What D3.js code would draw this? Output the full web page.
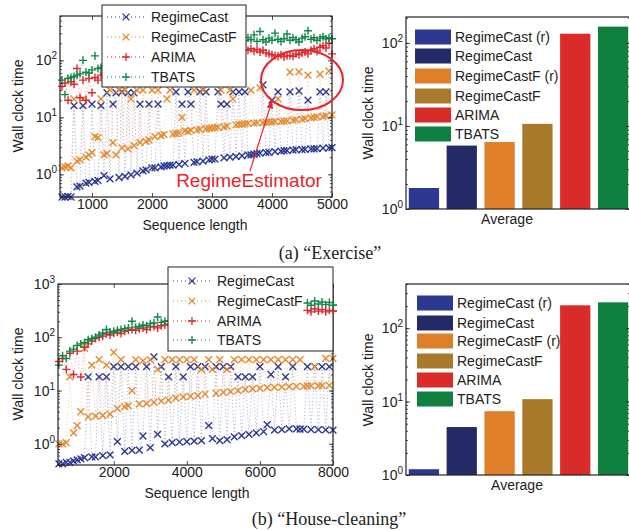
<!DOCTYPE html>
<html lang="en">
<head>
<meta charset="UTF-8">
<title>Wall clock time</title>
<script src="https://cdn.jsdelivr.net/npm/d3@7"></script>
<style>
  body { margin: 0; background: #fff; }
  svg text { font-family: "Liberation Sans", Arial, sans-serif; fill: #222; }
</style>
</head>
<body>
<svg id="fig" width="629" height="530"></svg>
<script>

// ---- data ----
const methods = ["RegimeCast", "RegimeCastF", "ARIMA", "TBATS"];
const methodColors = ["#2b3a92", "#e68a2e", "#e3262b", "#14874a"];
const methodMarks = ["x", "x", "+", "+"];

const barNames = ["RegimeCast (r)", "RegimeCast", "RegimeCastF (r)", "RegimeCastF", "ARIMA", "TBATS"];
const barColors = ["#2b3990", "#232a66", "#e07f2a", "#aa7a2c", "#d92b27", "#0f8040"];

// (a) Exercise
const lenA = [500, 550, 600, 650, 700, 750, 800, 850, 900, 950,
  1000, 1050, 1100, 1150, 1200, 1250, 1300, 1350, 1400, 1450,
  1500, 1550, 1600, 1650, 1700, 1750, 1800, 1850, 1900, 1950,
  2000, 2050, 2100, 2150, 2200, 2250, 2300, 2350, 2400, 2450,
  2500, 2550, 2600, 2650, 2700, 2750, 2800, 2850, 2900, 2950,
  3000, 3050, 3100, 3150, 3200, 3250, 3300, 3350, 3400, 3450,
  3500, 3550, 3600, 3650, 3700, 3750, 3800, 3850, 3900, 3950,
  4000, 4050, 4100, 4150, 4200, 4250, 4300, 4350, 4400, 4450,
  4500, 4550, 4600, 4650, 4700, 4750, 4800, 4850, 4900, 4950, 5000];
const regimeCastA = [0.4, 0.4, 0.41, 0.4, 16, 0.6, 0.62, 16, 0.7, 0.72,
  17, 0.75, 0.78, 16, 0.95, 27, 0.83, 17, 27, 0.88,
  28, 0.92, 27, 0.98, 27, 1.05, 17, 1.15, 1.2, 17,
  1.3, 1.3, 17, 1.35, 1.4, 1.42, 1.45, 1.45, 28, 1.5,
  17, 1.55, 28, 17, 1.62, 1.65, 28, 1.7, 28, 1.8,
  1.85, 1.85, 28, 17, 1.95, 17, 2.0, 28, 2.05, 28,
  2.1, 28, 2.2, 2.2, 2.25, 2.3, 2.35, 37, 2.4, 2.42,
  20, 2.5, 28, 2.55, 2.6, 2.62, 28, 2.65, 2.7, 29,
  2.72, 2.75, 20, 2.8, 2.8, 2.82, 28, 2.88, 28, 2.92, 2.95];
const regimeCastFA = [1.3, 1.35, 1.4, 1.3, 21, 1.7, 1.8, 21, 2.0, 2.2,
  2.4, 4.6, 4.4, 21, 2.2, 2.3, 30, 3.6, 2.2, 30,
  2.9, 30, 2.8, 21, 3.2, 30, 3.6, 30, 3.8, 4.0,
  30, 4.6, 30, 4.8, 5.0, 21, 30, 5.1, 5.2, 5.3,
  10, 5.8, 5.6, 5.9, 30, 6.0, 6.1, 30, 6.3, 6.4,
  6.5, 6.6, 6.7, 30, 6.8, 7.0, 30, 21, 7.4, 7.5,
  7.6, 7.7, 7.8, 30, 7.9, 8.0, 33, 8.1, 8.2, 8.3,
  8.3, 8.4, 21, 8.5, 8.6, 8.7, 62, 8.9, 9.0, 63,
  9.3, 9.5, 55, 9.8, 10, 10.2, 57, 10.4, 10.6, 65, 11];
const arimaA = [35, 40, 20, 42, 38, 72, 22, 45, 20, 48,
  27, 50, 45, 55, 60, 72, 62, 66, 70, 68,
  75, 72, 80, 78, 85, 82, 88, 90, 86, 92,
  95, 98, 94, 100, 104, 98, 106, 110, 105, 112,
  115, 110, 118, 120, 115, 122, 125, 120, 128, 130,
  125, 132, 135, 138, 140, 135, 145, 142, 150, 148,
  155, 150, 150, 160, 145, 155, 140, 150, 135, 130,
  125, 120, 118, 125, 115, 120, 122, 118, 130, 125,
  135, 140, 130, 150, 160, 145, 170, 180, 165, 200, 130];
const tbatsA = [45, 25, 48, 50, 52, 55, 58, 100, 62, 60,
  68, 120, 72, 75, 80, 85, 90, 92, 96, 100,
  104, 108, 110, 115, 118, 120, 125, 128, 130, 135,
  140, 142, 145, 150, 152, 155, 160, 158, 165, 168,
  170, 175, 178, 180, 185, 182, 190, 188, 195, 192,
  200, 205, 220, 230, 210, 240, 225, 250, 230, 260,
  240, 220, 250, 230, 280, 215, 320, 230, 210, 245,
  225, 300, 235, 215, 240, 290, 225, 250, 230, 210,
  245, 260, 330, 235, 250, 225, 245, 260, 240, 250, 240];
const avgA = [1.79, 5.8, 6.4, 10.6, 129, 157];

// (b) House-cleaning
const lenB = [500, 600, 700, 800, 900, 1000, 1100, 1200, 1300, 1400,
  1500, 1600, 1700, 1800, 1900, 2000, 2100, 2200, 2300, 2400,
  2500, 2600, 2700, 2800, 2900, 3000, 3100, 3200, 3300, 3400,
  3500, 3600, 3700, 3800, 3900, 4000, 4100, 4200, 4300, 4400,
  4500, 4600, 4700, 4800, 4900, 5000, 5100, 5200, 5300, 5400,
  5500, 5600, 5700, 5800, 5900, 6000, 6100, 6200, 6300, 6400,
  6500, 6600, 6700, 6800, 6900, 7000, 7100, 7200, 7300, 7400,
  7500, 7600, 7700, 7800, 7900, 8000];
const regimeCastB = [0.42, 0.42, 0.45, 0.45, 0.48, 0.5, 0.52, 0.55, 18, 0.57,
  0.57, 18, 0.6, 18, 0.62, 28, 1.1, 28, 0.72, 28,
  0.75, 28, 0.76, 1.4, 28, 0.85, 43, 1.5, 28, 1.0,
  18, 1.05, 28, 1.08, 18, 1.1, 28, 1.12, 28, 1.15,
  28, 2.2, 1.25, 28, 1.15, 28, 1.2, 28, 1.35, 18,
  1.42, 18, 1.5, 18, 1.6, 28, 1.7, 2.3, 20, 1.8,
  28, 1.85, 18, 1.9, 28, 1.9, 1.88, 1.88, 28, 1.85,
  28, 1.85, 28, 1.82, 28, 1.8];
const regimeCastFB = [1.0, 1.0, 1.05, 18, 1.6, 2.2, 4.0, 62, 3.2, 30,
  3.3, 38, 3.4, 30, 3.6, 52, 4.6, 38, 5.0, 5.2,
  10, 38, 5.6, 36, 5.7, 38, 6.0, 25, 6.3, 38,
  6.6, 38, 7.2, 38, 7.6, 38, 7.8, 38, 8.0, 25,
  8.6, 38, 25, 8.9, 38, 9.2, 25, 9.5, 38, 10,
  38, 10.5, 38, 10.8, 38, 11, 38, 11.3, 38, 11.5,
  38, 11.6, 38, 11.8, 38, 12, 38, 12, 12.2, 12.2,
  28, 12.3, 12.4, 40, 12.5, 40];
const arimaB = [35, 40, 25, 50, 20, 55, 18, 65, 75, 85,
  95, 100, 105, 115, 110, 120, 125, 118, 130, 135,
  140, 135, 145, 150, 140, 155, 160, 150, 165, 170,
  175, 180, 185, 190, 195, 200, 205, 210, 215, 220,
  225, 230, 235, 240, 245, 250, 255, 260, 265, 270,
  275, 280, 285, 290, 290, 295, 300, 300, 305, 310,
  310, 315, 315, 320, 320, 325, 325, 330, 320, 300,
  340, 310, 330, 300, 320, 310];
const tbatsB = [30, 45, 40, 55, 60, 70, 75, 80, 90, 95,
  100, 110, 120, 140, 125, 130, 135, 140, 145, 150,
  200, 155, 160, 170, 165, 180, 185, 240, 190, 200,
  205, 210, 215, 220, 230, 240, 245, 250, 260, 265,
  270, 280, 285, 290, 300, 305, 310, 320, 325, 330,
  340, 345, 350, 360, 365, 370, 375, 380, 385, 390,
  395, 400, 405, 410, 415, 420, 425, 430, 440, 400,
  480, 420, 460, 410, 450, 400];
const avgB = [1.2, 4.5, 7.4, 10.8, 205, 225];

const xTicksA = [1000, 2000, 3000, 4000, 5000];
const xTicksB = [2000, 4000, 6000, 8000];

// ---- drawing ----
const svg = d3.select("#fig");
const ink = "#222";
const markX = "M-3.4,-3.4L3.4,3.4M-3.4,3.4L3.4,-3.4";
const markPlus = "M-4,0H4M0,-4V4";

function supLabels(sel) {
  sel.each(function(d) {
    const t = d3.select(this).text(null);
    t.append("tspan").text("10");
    t.append("tspan").attr("dy", "-0.6em").attr("font-size", 10).text(Math.round(Math.log10(d)));
  });
}

function yLogAxis(g, y, x0, x1, majors, labelPad) {
  const minor = y.ticks();
  g.append("g").attr("transform", `translate(${x0},0)`)
    .call(d3.axisLeft(y).tickValues(minor).tickSizeInner(-2).tickSizeOuter(0).tickFormat(""))
    .call(a => a.select(".domain").remove());
  g.append("g").attr("transform", `translate(${x1},0)`)
    .call(d3.axisRight(y).tickValues(minor).tickSizeInner(-2).tickSizeOuter(0).tickFormat(""))
    .call(a => a.select(".domain").remove());
  const ya = g.append("g").attr("transform", `translate(${x0},0)`)
    .call(d3.axisLeft(y).tickValues(majors).tickSizeInner(-4).tickSizeOuter(0).tickPadding(labelPad))
    .call(a => a.select(".domain").remove());
  ya.attr("font-family", null).attr("font-size", 14);
  ya.selectAll(".tick text").call(supLabels);
  g.append("g").attr("transform", `translate(${x1},0)`)
    .call(d3.axisRight(y).tickValues(majors).tickSizeInner(-4).tickSizeOuter(0).tickFormat(""))
    .call(a => a.select(".domain").remove());
  g.selectAll(".tick line").attr("stroke", ink).attr("stroke-width", 0.8);
}

function drawMarks(g, pts, k, x, y) {
  g.selectAll(null).data(pts).enter().append("path")
    .attr("transform", d => `translate(${x(d.L)},${y(d.v)})`)
    .attr("d", methodMarks[k] === "x" ? markX : markPlus)
    .attr("fill", "none")
    .attr("stroke", methodColors[k])
    .attr("stroke-width", 1.4);
}

function lineChart(c) {
  const x = d3.scaleLinear().domain(c.xDomain).range([c.left, c.right]);
  const y = d3.scaleLog().domain(c.yDomain).range([c.bottom, c.top]);
  const g = svg.append("g");

  c.series.forEach((vals, k) => {
    const pts = c.lens.map((L, i) => ({L: L, v: vals[i]}));
    g.append("path")
      .datum(pts)
      .attr("d", d3.line().x(d => x(d.L)).y(d => y(d.v)))
      .attr("fill", "none")
      .attr("stroke", methodColors[k])
      .attr("stroke-width", 0.7)
      .attr("stroke-dasharray", "1 2.5")
      .attr("opacity", 0.6);
    drawMarks(g, pts, k, x, y);
  });

  // axes
  const xb = g.append("g").attr("transform", `translate(0,${c.bottom})`)
    .call(d3.axisBottom(x).tickValues(c.xTicks).tickSizeInner(-4).tickSizeOuter(0).tickPadding(2).tickFormat(d3.format("d")))
    .call(a => a.select(".domain").remove());
  xb.attr("font-family", null).attr("font-size", 14);
  g.append("g").attr("transform", `translate(0,${c.top})`)
    .call(d3.axisTop(x).tickValues(c.xTicks).tickSizeInner(-4).tickSizeOuter(0).tickFormat(""))
    .call(a => a.select(".domain").remove());
  yLogAxis(g, y, c.left, c.right, c.yMajors, 3);

  g.append("rect")
    .attr("x", c.left).attr("y", c.top)
    .attr("width", c.right - c.left).attr("height", c.bottom - c.top)
    .attr("fill", "none").attr("stroke", ink).attr("stroke-width", 1.2);

  g.append("text")
    .attr("transform", `translate(${c.yLabel[0]},${c.yLabel[1]}) rotate(-90)`)
    .attr("text-anchor", "middle").attr("font-size", 14)
    .text("Wall clock time");
  g.append("text")
    .attr("x", c.xLabel[0]).attr("y", c.xLabel[1])
    .attr("text-anchor", "middle").attr("font-size", 14)
    .text("Sequence length");

  // legend
  const L = c.legend;
  g.append("rect")
    .attr("x", L.x).attr("y", L.y).attr("width", L.w).attr("height", L.h)
    .attr("fill", "#fff").attr("stroke", ink).attr("stroke-width", 1);
  methods.forEach((m, k) => {
    const yy = L.rows[k];
    g.append("line")
      .attr("x1", L.x + 5).attr("x2", L.x + L.sample).attr("y1", yy).attr("y2", yy)
      .attr("stroke", methodColors[k]).attr("stroke-width", 1)
      .attr("stroke-dasharray", "1 3");
    g.append("path")
      .attr("transform", `translate(${L.x + 5 + (L.sample - 5) / 2},${yy})`)
      .attr("d", methodMarks[k] === "x" ? markX : markPlus)
      .attr("fill", "none").attr("stroke", methodColors[k]).attr("stroke-width", 1.3);
    g.append("text")
      .attr("x", L.x + L.sample + 6).attr("y", yy + 5)
      .attr("font-size", 14)
      .text(m);
  });

  // markers that sit over the legend box in the original figure
  if (c.overFrom) {
    c.series.forEach((vals, k) => {
      if (methodMarks[k] !== "+") return;
      const pts = c.lens.map((L, i) => ({L: L, v: vals[i]})).filter(d => d.L >= c.overFrom);
      drawMarks(g, pts, k, x, y);
    });
  }
  return {x: x, y: y, g: g};
}

function barChart(c) {
  const x = d3.scaleBand().domain(barNames).range([c.left - 1, c.right + 2])
    .paddingInner(0.2).paddingOuter(0.1);
  const y = d3.scaleLog().domain(c.yDomain).range([c.bottom, c.top]);
  const g = svg.append("g");

  g.selectAll(null).data(c.values).enter().append("rect")
    .attr("x", (d, i) => x(barNames[i]))
    .attr("width", x.bandwidth())
    .attr("y", d => y(d))
    .attr("height", d => c.bottom - y(d))
    .attr("fill", (d, i) => barColors[i]);

  yLogAxis(g, y, c.left, c.right, c.yMajors, 3);
  g.append("rect")
    .attr("x", c.left).attr("y", c.top)
    .attr("width", c.right - c.left).attr("height", c.bottom - c.top)
    .attr("fill", "none").attr("stroke", ink).attr("stroke-width", 1.2);

  g.append("text")
    .attr("transform", `translate(${c.yLabel[0]},${c.yLabel[1]}) rotate(-90)`)
    .attr("text-anchor", "middle").attr("font-size", 14)
    .text("Wall clock time");
  g.append("text")
    .attr("x", c.xLabel[0]).attr("y", c.xLabel[1])
    .attr("text-anchor", "middle").attr("font-size", 14)
    .text("Average");

  const L = c.legend;
  barNames.forEach((n, i) => {
    g.append("rect")
      .attr("x", L.x).attr("y", L.rows[i] - 7.5)
      .attr("width", 36).attr("height", 15)
      .attr("fill", barColors[i]);
    g.append("text")
      .attr("x", L.x + 40).attr("y", L.rows[i] + 5)
      .attr("font-size", 14)
      .text(n);
  });
}

// (a)
const chartA = lineChart({
  lens: lenA, series: [regimeCastA, regimeCastFA, arimaA, tbatsA],
  xDomain: [467, 5000], yDomain: [0.4, 600],
  left: 60, right: 332, top: 16, bottom: 197,
  xTicks: xTicksA, yMajors: [1, 10, 100],
  yLabel: [23, 106], xLabel: [195, 230],
  legend: {x: 102, y: 5, w: 144, h: 82, sample: 43, rows: [17, 37, 57, 77]}
});
barChart({
  values: avgA, yDomain: [1, 205],
  left: 406, right: 630, top: 17, bottom: 209,
  yMajors: [1, 10, 100],
  yLabel: [373, 113], xLabel: [507, 224],
  legend: {x: 415, rows: [37, 56, 76, 96, 115, 134]}
});

// RegimeEstimator annotation on (a)
const ann = chartA.g.append("g");
ann.append("ellipse")
  .attr("cx", chartA.x(4500)).attr("cy", chartA.y(45))
  .attr("rx", 41).attr("ry", 30)
  .attr("fill", "none").attr("stroke", "#e8262b").attr("stroke-width", 2);
svg.append("defs").append("marker")
  .attr("id", "arr").attr("viewBox", "0 0 10 10").attr("refX", 9).attr("refY", 5)
  .attr("markerWidth", 7).attr("markerHeight", 7).attr("orient", "auto")
  .append("path").attr("d", "M0,1L10,5L0,9Z").attr("fill", "#e8262b");
ann.append("line")
  .attr("x1", 250).attr("y1", 171).attr("x2", 272).attr("y2", 101)
  .attr("stroke", "#e8262b").attr("stroke-width", 1.2)
  .attr("marker-end", "url(#arr)");
ann.append("text")
  .attr("x", 249).attr("y", 187).attr("text-anchor", "middle")
  .attr("font-size", 19).style("fill", "#e8262b")
  .text("RegimeEstimator");

// (b)
lineChart({
  lens: lenB, series: [regimeCastB, regimeCastFB, arimaB, tbatsB],
  xDomain: [475, 8000], yDomain: [0.4, 1000],
  left: 58, right: 333, top: 284, bottom: 465,
  xTicks: xTicksB, yMajors: [1, 10, 100, 1000],
  yLabel: [23, 374], xLabel: [197, 498],
  legend: {x: 168, y: 267, w: 165, h: 84, sample: 43, rows: [281, 301, 321, 340]},
  overFrom: 7300
});
barChart({
  values: avgB, yDomain: [1, 400],
  left: 406, right: 630, top: 284, bottom: 475,
  yMajors: [1, 10, 100],
  yLabel: [373, 380], xLabel: [517, 490],
  legend: {x: 417, rows: [303, 323, 341, 361, 380, 399]}
});

// captions
svg.append("text").attr("x", 330).attr("y", 259).attr("text-anchor", "middle")
  .style("font-family", "'Liberation Serif', 'Times New Roman', serif").attr("font-size", 18)
  .text("(a) \u201cExercise\u201d");
svg.append("text").attr("x", 329).attr("y", 525).attr("text-anchor", "middle")
  .style("font-family", "'Liberation Serif', 'Times New Roman', serif").attr("font-size", 18)
  .text("(b) \u201cHouse-cleaning\u201d");
</script>
</body>
</html>
